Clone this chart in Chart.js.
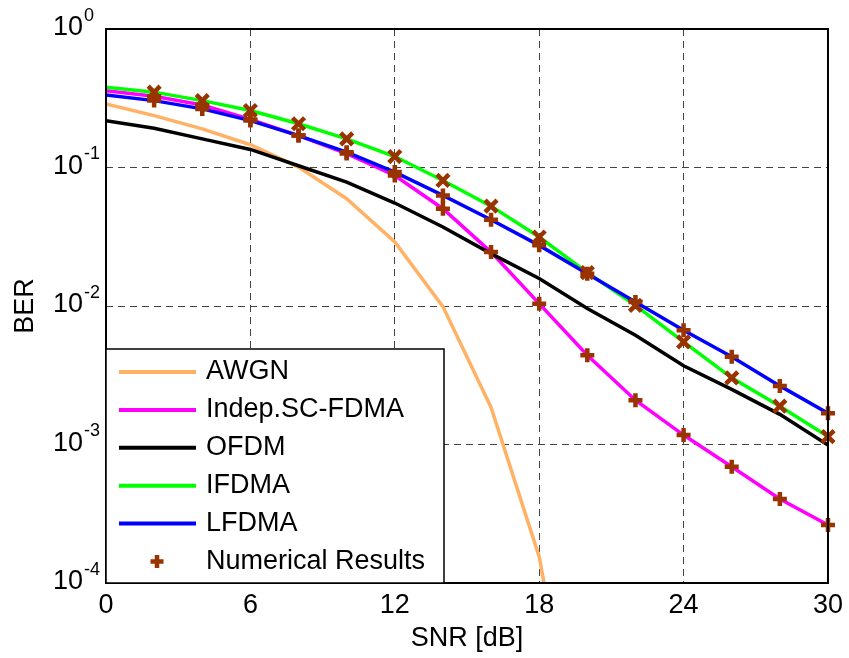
<!DOCTYPE html>
<html>
<head>
<meta charset="utf-8">
<script src="https://cdn.jsdelivr.net/npm/chart.js@4.4.0/dist/chart.umd.min.js"></script>
<style>
    body { margin: 0; background: #fff; }
    #wrap { width: 849px; height: 658px; }
</style>
</head>
<body>
<div id="wrap"><canvas id="ber-chart" width="849" height="658"></canvas></div>
<script>
// SNR axis (dB)
const snr = [0, 2, 4, 6, 8, 10, 12, 14, 16, 18, 20, 22, 24, 26, 28, 30];
const xTicks = [0, 6, 12, 18, 24, 30];
const yDecades = [1e-4, 1e-3, 1e-2, 1e-1, 1];

// BER curves
const awgn = [0.288, 0.237, 0.19, 0.146, 0.1007, 0.0595, 0.029, 0.0099, 0.00185, 0.000155, 0.000002];
const indepScFdma = [0.359, 0.327, 0.283, 0.222, 0.17, 0.126, 0.0876, 0.0504, 0.0245, 0.0104, 0.00441, 0.00209, 0.00117, 0.00069, 0.000404, 0.000262];
const ofdm = [0.218, 0.192, 0.161, 0.135, 0.103, 0.0785, 0.0554, 0.0372, 0.0239, 0.0158, 0.00958, 0.00615, 0.0037, 0.0025, 0.00165, 0.00099];
const ifdma = [0.38, 0.35, 0.304, 0.258, 0.207, 0.161, 0.12, 0.0806, 0.0526, 0.0315, 0.0174, 0.0101, 0.0055, 0.00303, 0.00189, 0.00114];
const lfdma = [0.334, 0.304, 0.265, 0.218, 0.17, 0.129, 0.0926, 0.0629, 0.042, 0.0274, 0.0171, 0.0107, 0.00668, 0.0043, 0.00265, 0.00168];

const markerColor = '#993300';
const fontFamily = "'Liberation Sans', Arial, Helvetica, sans-serif";
const fontSize = 27;

function pts(ys) {
    return ys.map(function(v, i) { return { x: snr[i], y: v }; });
}
// simulation markers sit at 2, 4, ... 30 dB
function markerPts(ys) {
    return pts(ys).slice(1);
}

function lineSet(label, ys, color, order) {
    return {
        label: label,
        data: pts(ys),
        borderColor: color,
        backgroundColor: color,
        borderWidth: 3.5,
        pointRadius: 0,
        tension: 0,
        order: order,
        clip: 0
    };
}

function markerSet(label, ys, style, radius) {
    return {
        label: label,
        data: markerPts(ys),
        showLine: false,
        pointStyle: style,
        pointRadius: radius,
        pointBorderWidth: 4.5,
        pointBorderColor: markerColor,
        pointBackgroundColor: markerColor,
        order: 0,
        clip: false,
        isMarker: true
    };
}

// log-axis labels drawn as 10 with a raised exponent
const decadeLabels = {
    id: 'decadeLabels',
    afterDraw: function(chart) {
        const ctx = chart.ctx;
        const yScale = chart.scales.y;
        ctx.save();
        ctx.fillStyle = '#000';
        yDecades.forEach(function(v) {
            const y = yScale.getPixelForValue(v);
            ctx.font = fontSize + 'px ' + fontFamily;
            ctx.textAlign = 'right';
            ctx.textBaseline = 'middle';
            ctx.fillText('10', 83, y - 1);
            ctx.font = '18px ' + fontFamily;
            ctx.textAlign = 'left';
            ctx.fillText(String(Math.round(Math.log10(v))), 84, y - 13);
        });
        ctx.restore();
    }
};

// axes box + legend inside the plot
const boxAndLegend = {
    id: 'boxAndLegend',
    afterDraw: function(chart) {
        const ctx = chart.ctx;
        const a = chart.chartArea;
        ctx.save();
        ctx.strokeStyle = '#000';
        ctx.lineWidth = 2;
        ctx.strokeRect(a.left, a.top, a.right - a.left, a.bottom - a.top);

        const lx = a.left, ly = 349, lw = 338, lh = a.bottom - 349;
        ctx.fillStyle = '#fff';
        ctx.fillRect(lx, ly, lw, lh);
        ctx.lineWidth = 1.5;
        ctx.strokeRect(lx, ly, lw, lh);

        const rowY = 372, rowStep = 37.9;
        const lines = chart.data.datasets.filter(function(d) { return !d.isMarker; });
        ctx.font = fontSize + 'px ' + fontFamily;
        ctx.textBaseline = 'middle';
        ctx.textAlign = 'left';
        lines.forEach(function(d, i) {
            const y = rowY + i * rowStep;
            ctx.strokeStyle = d.borderColor;
            ctx.lineWidth = 4;
            ctx.beginPath();
            ctx.moveTo(119, y);
            ctx.lineTo(196, y);
            ctx.stroke();
            ctx.fillStyle = '#000';
            ctx.fillText(d.label, 206, y);
        });
        const my = rowY + lines.length * rowStep;
        ctx.strokeStyle = markerColor;
        ctx.lineWidth = 4.5;
        ctx.beginPath();
        ctx.moveTo(157 - 6.5, my);
        ctx.lineTo(157 + 6.5, my);
        ctx.moveTo(157, my - 6.5);
        ctx.lineTo(157, my + 6.5);
        ctx.stroke();
        ctx.fillStyle = '#000';
        ctx.fillText('Numerical Results', 206, my);
        ctx.restore();
    }
};

Chart.defaults.font.family = fontFamily;
Chart.defaults.color = '#000';

const ctx = document.getElementById('ber-chart').getContext('2d');
const berChart = new Chart(ctx, {
    type: 'line',
    data: {
        datasets: [
            lineSet('AWGN', awgn, '#FFB266', 5),
            lineSet('Indep.SC-FDMA', indepScFdma, '#FF00FF', 4),
            lineSet('OFDM', ofdm, '#000000', 3),
            lineSet('IFDMA', ifdma, '#00FF00', 2),
            lineSet('LFDMA', lfdma, '#0000FF', 1),
            markerSet('Numerical Results', ifdma, 'crossRot', 8.5),
            markerSet('Numerical Results LFDMA', lfdma, 'cross', 7),
            markerSet('Numerical Results SC', indepScFdma, 'cross', 7)
        ]
    },
    options: {
        responsive: false,
        animation: false,
        layout: {
            padding: { top: 29, right: 18, left: 0, bottom: 0 }
        },
        plugins: {
            legend: { display: false },
            tooltip: { enabled: false }
        },
        scales: {
            x: {
                type: 'linear',
                min: 0,
                max: 30,
                afterBuildTicks: function(scale) {
                    scale.ticks = xTicks.map(function(v) { return { value: v }; });
                },
                afterFit: function(scale) {
                    scale.height = 75;
                },
                ticks: {
                    font: { size: fontSize },
                    padding: 6,
                    maxRotation: 0
                },
                grid: {
                    color: '#444',
                    lineWidth: 1,
                    drawTicks: false
                },
                border: {
                    display: false,
                    dash: [7, 5]
                },
                title: {
                    display: true,
                    text: 'SNR [dB]',
                    font: { size: fontSize },
                    padding: { top: 0, bottom: 3 }
                }
            },
            y: {
                type: 'logarithmic',
                min: 1e-4,
                max: 1,
                afterBuildTicks: function(scale) {
                    scale.ticks = yDecades.map(function(v) { return { value: v }; });
                },
                afterFit: function(scale) {
                    scale.width = 106;
                },
                ticks: {
                    display: false
                },
                grid: {
                    color: '#444',
                    lineWidth: 1,
                    drawTicks: false
                },
                border: {
                    display: false,
                    dash: [7, 5]
                },
                title: {
                    display: true,
                    text: 'BER',
                    font: { size: fontSize },
                    padding: { top: 9, bottom: 0 }
                }
            }
        }
    },
    plugins: [decadeLabels, boxAndLegend]
});
</script>
</body>
</html>
